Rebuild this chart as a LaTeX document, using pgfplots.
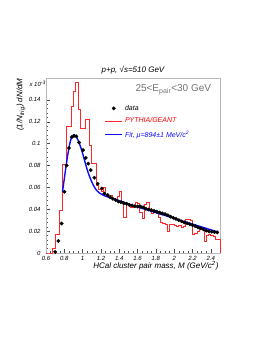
\documentclass[border=0pt]{standalone}
\usepackage{fontspec}
\setmainfont{Liberation Sans}
\usepackage{pgfplots}
\pgfplotsset{compat=1.18}
\definecolor{hred}{RGB}{255,40,40}
\definecolor{fitblue}{RGB}{10,10,255}
\definecolor{framec}{gray}{0.72}
\definecolor{bandc}{gray}{0.45}
\pgfplotstableread{
x y
0.600 0
0.625 0
0.650 0
0.675 0.004
0.700 0.017
0.725 0.017
0.750 0.0385
0.775 0.081
0.800 0.081
0.825 0.116
0.850 0.116
0.875 0.134
0.900 0.148
0.925 0.156
0.950 0.131
0.975 0.114
1.000 0.114
1.025 0.122
1.050 0.122
1.075 0.098
1.100 0.082
1.125 0.082
1.150 0.062
1.175 0.058
1.200 0.056
1.225 0.060
1.250 0.054
1.275 0.052
1.300 0.053
1.325 0.050
1.350 0.049
1.375 0.052
1.400 0.056
1.425 0.047
1.450 0.033
1.475 0.044
1.500 0.044
1.525 0.042
1.550 0.043
1.575 0.046
1.600 0.045
1.625 0.037
1.650 0.032
1.675 0.044
1.700 0.046
1.725 0.040
1.750 0.036
1.775 0.037
1.800 0.037
1.825 0.033
1.850 0.028
1.875 0.027
1.900 0.026
1.925 0.020
1.950 0.026
1.975 0.026
2.000 0.025
2.025 0.024
2.050 0.025
2.075 0.023
2.100 0.024
2.125 0.031
2.150 0.031
2.175 0.030
2.200 0.017
2.225 0.018
2.250 0.020
2.275 0.023
2.300 0.022
2.325 0.011
2.350 0.016
2.375 0.017
2.400 0.016
2.425 0.015
2.450 0.012
2.475 0.012
2.500 0
}\simtable
\pgfplotstableread{
x y
0.700 0.001
0.734 0.011
0.771 0.027
0.800 0.056
0.826 0.080
0.851 0.096
0.881 0.106
0.906 0.107
0.931 0.1067
0.961 0.101
1.004 0.094
1.034 0.087
1.062 0.0817
1.088 0.0758
1.128 0.0688
1.165 0.0633
1.209 0.059
1.237 0.0544
1.274 0.0529
1.30 0.0510
1.33 0.0495
1.36 0.0485
1.39 0.0470
1.42 0.0465
1.45 0.0455
1.48 0.0450
1.51 0.0440
1.54 0.0435
1.57 0.0428
1.60 0.0425
1.63 0.0425
1.66 0.0418
1.69 0.0405
1.72 0.0398
1.75 0.0392
1.78 0.0385
1.81 0.0378
1.84 0.0370
1.87 0.0362
1.90 0.0355
1.93 0.0345
1.96 0.0333
1.99 0.0322
2.02 0.0312
2.05 0.0300
2.08 0.0290
2.11 0.0280
2.14 0.0272
2.17 0.0263
2.20 0.0255
2.23 0.0245
2.26 0.0235
2.29 0.0225
2.32 0.0215
2.35 0.0205
2.38 0.0198
2.41 0.0195
2.44 0.0190
2.47 0.0188
}\datatable
\pgfplotstableread{
x y
0.78 0.056
0.80 0.068
0.82 0.080
0.84 0.091
0.86 0.100
0.88 0.106
0.90 0.108
0.92 0.1075
0.94 0.105
0.96 0.101
0.98 0.0965
1.00 0.091
1.02 0.085
1.04 0.079
1.06 0.0735
1.08 0.069
1.10 0.065
1.12 0.0615
1.15 0.0575
1.18 0.0550
1.21 0.0535
1.25 0.0520
1.30 0.0506
1.35 0.0493
1.40 0.0478
1.50 0.0448
1.60 0.0421
1.70 0.0395
1.80 0.0369
1.90 0.0343
2.00 0.0316
2.10 0.0290
2.20 0.0264
2.30 0.0238
2.40 0.0212
2.47 0.0194
}\fittable
\begin{document}
\begin{tikzpicture}[x=1pt,y=1pt]
\path[use as bounding box] (0,0) rectangle (274,-354);
\begin{axis}[
  at={(46pt,-253pt)}, anchor=south west, scale only axis,
  width=174pt, height=175pt,
  xmin=0.6, xmax=2.5, ymin=0, ymax=0.16,
  axis line style={framec, line width=0.5pt},
  tick pos=left, tick align=inside,
  xtick={0.6,0.8,1,1.2,1.4,1.6,1.8,2,2.2,2.4},
  ytick={0,0.02,0.04,0.06,0.08,0.1,0.12,0.14},
  minor x tick num=3, minor y tick num=4,
  major tick length=4pt, minor tick length=2pt,
  tick style={black!70, line width=0.4pt},
  /pgf/number format/assume math mode=true,
  /pgf/number format/fixed,
  /pgf/number format/precision=2,
  ticklabel style={font=\fontsize{6}{7}\selectfont\itshape},
  yticklabel style={xshift=-2pt},
  legend style={at={(0.335,0.858)}, anchor=north west, draw=none, fill=none,
    font=\fontsize{7}{8}\selectfont\itshape, row sep=2.2pt, inner sep=0pt,
    cells={anchor=west}},
  legend cell align=left,
  clip=false,
]
\addlegendimage{only marks, mark=*, mark size=1.7pt, draw=black, fill=black}
\addlegendentry{data}
\addlegendimage{color=hred, line width=1pt}
\addlegendentry[text=red]{PYTHIA/GEANT}
\addlegendimage{color=fitblue, line width=1.5pt}
\addlegendentry[text=fitblue]{Fit, μ=894±1 MeV/c\textsuperscript{2}}
\addplot[const plot mark left, color=hred, line width=0.8pt, forget plot] table[x=x,y=y] {\simtable};
\addplot[color=fitblue, line width=1.4pt, smooth, forget plot] table[x=x,y=y] {\fittable};
\addplot[only marks, mark=*, mark size=1.7pt, draw=black, fill=black, forget plot] table[x=x,y=y] {\datatable};
\end{axis}
\node[font=\fontsize{8}{9}\selectfont\itshape] at (133,-70) {p+p, √s=510 GeV};
\node[font=\fontsize{10}{11}\selectfont, text=bandc, anchor=west] at (132,-90) {25<E\textsubscript{pair}<30 GeV};
\node[font=\fontsize{8}{9}\selectfont\itshape, rotate=90, anchor=east] at (21,-75) {(1/N\textsubscript{trig}) dN/dM};
\node[font=\fontsize{6}{7}\selectfont\itshape, anchor=west] at (26,-84) {x 10\textsuperscript{-3}};
\node[font=\fontsize{8}{9}\selectfont\itshape, anchor=east] at (222,-266) {HCal cluster pair mass, M (GeV/c\textsuperscript{2})};
\end{tikzpicture}
\end{document}
